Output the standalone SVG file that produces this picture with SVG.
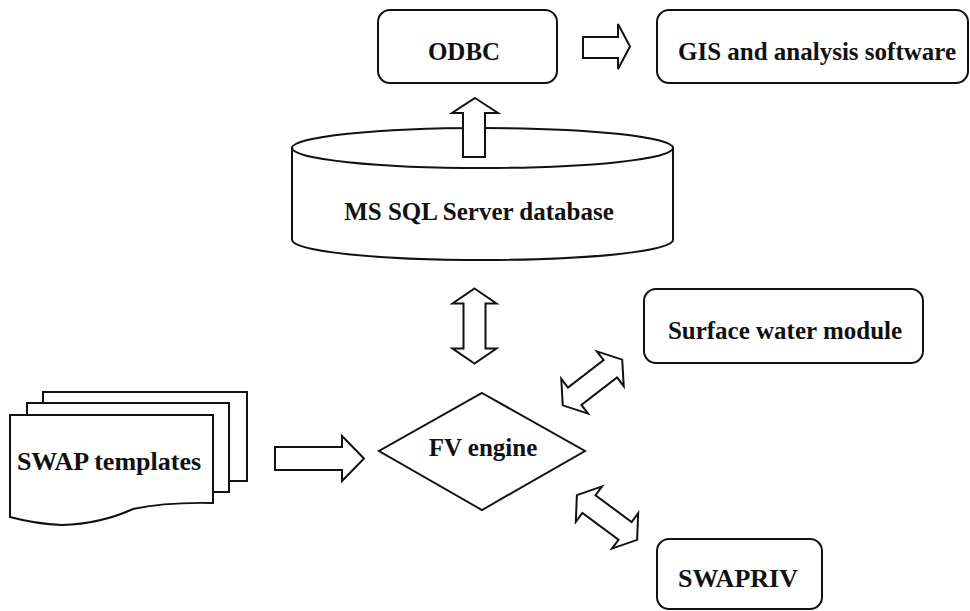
<svg xmlns="http://www.w3.org/2000/svg" width="970" height="611" viewBox="0 0 970 611">
<style>
.s{fill:#fff;stroke:#111;stroke-width:2;stroke-linejoin:miter}
.t{font-family:"Liberation Serif","Times New Roman",serif;font-weight:bold;font-size:25px;fill:#111;text-anchor:middle}
</style>
<defs>
<path id="dbl" d="M-37.5,0 L-22.5,-22 L-22.5,-11 L22.5,-11 L22.5,-22 L37.5,0 L22.5,22 L22.5,11 L-22.5,11 L-22.5,22 Z"/>
</defs>
<rect width="970" height="611" fill="#fff"/>
<g id="odbc">
<rect class="s" x="378" y="10" width="179" height="73" rx="12"/>
<text class="t" x="464" y="60">ODBC</text>
</g>
<g id="gis">
<rect class="s" x="657" y="10" width="311" height="73" rx="12"/>
<text class="t" x="817" y="60">GIS and analysis software</text>
</g>
<g id="database">
<path class="s" d="M292,148 L292,240 A190.5,20 0 0 0 673,240 L673,148"/>
<ellipse class="s" cx="482.5" cy="148" rx="190.5" ry="20"/>
<text class="t" x="479" y="220">MS SQL Server database</text>
</g>
<g id="surface">
<rect class="s" x="644" y="289" width="279" height="74" rx="12"/>
<text class="t" x="785" y="339">Surface water module</text>
</g>
<g id="swapriv">
<rect class="s" x="657" y="539" width="165" height="70" rx="12"/>
<text class="t" x="738" y="587" style="font-size:26px">SWAPRIV</text>
</g>
<g id="fv">
<polygon class="s" points="482,393 585,451 482,510 379,451"/>
<text class="t" x="483" y="456">FV engine</text>
</g>
<g id="swap">
<rect class="s" x="43" y="392" width="204" height="89"/>
<rect class="s" x="27" y="403" width="202" height="89"/>
<path class="s" d="M10,415 L213,415 L213,503 Q165,502 133,509 Q100,524 62,525 Q36,524 10,517 Z"/>
<text class="t" x="109" y="470" style="font-size:26px">SWAP templates</text>
</g>
<g id="connectors">
<path class="s" d="M583,37 L618,37 L618,24 L630,46.5 L618,69 L618,58 L583,58 Z"/>
<path class="s" d="M475,98 L498,113 L485,113 L485,157 L463,157 L463,113 L452,113 Z"/>
<use href="#dbl" class="s" transform="translate(474.5,326) rotate(90)"/>
<use href="#dbl" class="s" transform="translate(592.5,382.5) rotate(-37.6)"/>
<use href="#dbl" class="s" transform="translate(607,517.5) rotate(36.6)"/>
<path class="s" d="M275,447 L342,447 L342,436 L364,458.5 L342,481 L342,470 L275,470 Z"/>
</g>
</svg>
